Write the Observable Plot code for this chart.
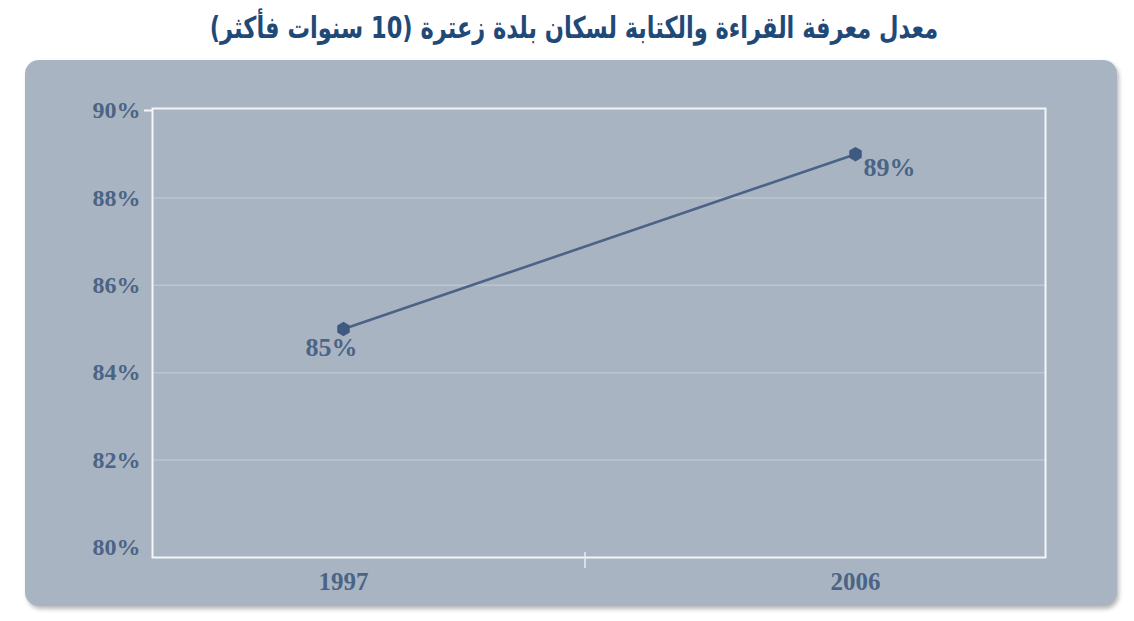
<!DOCTYPE html>
<html>
<head>
<meta charset="utf-8">
<script src="https://cdn.jsdelivr.net/npm/d3@7"></script>
<script src="https://cdn.jsdelivr.net/npm/@observablehq/plot@0.6"></script>
<style>
  html, body { margin: 0; padding: 0; background: #ffffff; width: 1134px; height: 621px; overflow: hidden; }
  #title {
    position: absolute; left: 7px; top: 10px; width: 1134px; text-align: center;
    font-family: "DejaVu Sans", sans-serif; font-weight: bold; font-size: 30px;
    color: #1f4a78; direction: rtl;
    transform: scaleX(0.75); transform-origin: 567px 0;
  }
  #panel {
    position: absolute; left: 25px; top: 60px; width: 1092px; height: 546px;
    background: #a9b4c2; border-radius: 14px;
    box-shadow: 2px 3px 4px rgba(0,0,0,0.28);
  }
  #panel svg { position: absolute; left: 0; top: 0; }
  #panel svg text { font-family: "Liberation Serif", "Times New Roman", serif !important; font-weight: bold !important; }
</style>
</head>
<body>
<div id="title">معدل معرفة القراءة والكتابة لسكان بلدة زعترة (10 سنوات فأكثر)</div>
<div id="panel"></div>
<script>
const years = ["1997", "2006"];
const rates = [85, 89];
const rateLabels = ["85%", "89%"];
const yTicks = [80, 82, 84, 86, 88, 90];
const gridTicks = [82, 84, 86, 88];

const data = years.map((year, i) => ({year, value: rates[i], label: rateLabels[i]}));

const textColor = "#4b6486";

const plot = Plot.plot({
  width: 1092,
  height: 546,
  marginLeft: 127,
  marginRight: 72,
  marginTop: 48,
  marginBottom: 49,
  style: {background: "transparent", fontFamily: "Liberation Serif", fontWeight: "bold", fontSize: "24px", color: textColor, overflow: "visible"},
  x: {type: "point", domain: years, padding: 0.372, label: null},
  y: {domain: [80, 90], insetTop: 2, insetBottom: 10, label: null},
  marks: [
    Plot.ruleY(gridTicks, {stroke: "#bcc5d1", strokeWidth: 1.5}),
    Plot.frame({stroke: "#f3f5f8", strokeWidth: 2}),
    Plot.ruleY([90], {stroke: "#f3f5f8", strokeWidth: 2, insetLeft: -8, insetRight: 893}),
    Plot.axisY({ticks: yTicks, tickFormat: d => d + "%", tickSize: 0, tickPadding: 12, label: null, fill: textColor, fontSize: 24}),
    Plot.axisX({tickSize: 0, tickPadding: 15, label: null, fill: textColor, fontSize: 25}),
    Plot.line(data, {x: "year", y: "value", stroke: "#4a6386", strokeWidth: 2.6}),
    Plot.dot(data, {x: "year", y: "value", symbol: "hexagon", r: 5.5, fill: "#3e5a80", stroke: "#3e5a80"}),
    Plot.text(data, {filter: d => d.year === years[0], x: "year", y: "value", text: "label", dx: -12, dy: 19, textAnchor: "middle", fill: textColor, fontSize: 26}),
    Plot.text(data, {filter: d => d.year === years[1], x: "year", y: "value", text: "label", dx: 8, dy: 13, textAnchor: "start", fill: textColor, fontSize: 26})
  ]
});

document.getElementById("panel").appendChild(plot);

// category boundary tick on the x axis
const xs = plot.scale("x");
const mid = (xs.apply(years[0]) + xs.apply(years[1])) / 2 - 14;
d3.select(plot).append("line")
  .attr("x1", mid).attr("x2", mid)
  .attr("y1", 546 - 49 - 5).attr("y2", 546 - 49 + 11)
  .attr("stroke", "#e8ecf0").attr("stroke-width", 1.5);
</script>
</body>
</html>
